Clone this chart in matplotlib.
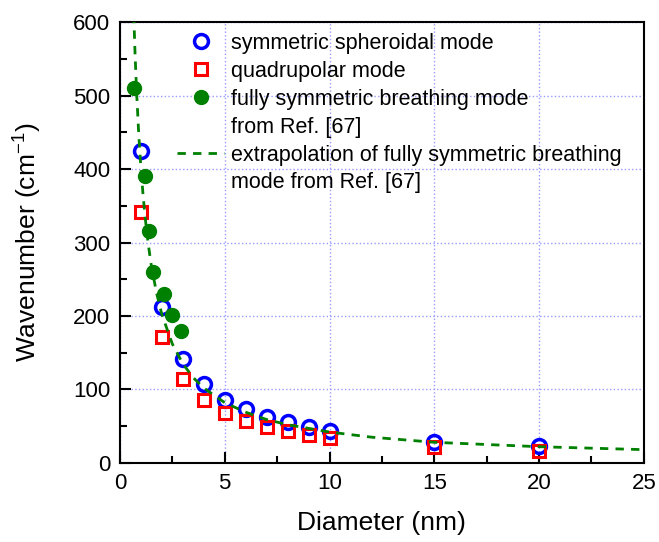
import matplotlib
matplotlib.use("Agg")
import matplotlib.pyplot as plt
from matplotlib.ticker import MultipleLocator

plt.rcParams['font.family'] = ['Liberation Sans', 'DejaVu Sans']
plt.rcParams['mathtext.fontset'] = 'custom'
plt.rcParams['mathtext.rm'] = 'Liberation Sans'

# symmetric spheroidal mode
sph_d = [1, 2, 3, 4, 5, 6, 7, 8, 9, 10, 15, 20]
sph_w = [425, 212, 142, 107, 85, 73, 62, 55, 49, 43, 29, 23]

# quadrupolar mode
quad_d = [1, 2, 3, 4, 5, 6, 7, 8, 9, 10, 15, 20]
quad_w = [342, 171, 114, 85, 68, 57, 49, 43, 38, 34, 22, 16]

# fully symmetric breathing mode, Ref. [67]
ref_d = [0.65, 1.2, 1.4, 1.6, 2.1, 2.5, 2.9]
ref_w = [510, 390, 316, 260, 230, 201, 180]

# extrapolation curve
ext_d = [0.66, 0.72, 0.8, 0.9, 1.0, 1.1, 1.2, 1.35, 1.5, 1.75, 2.0, 2.5, 3.0,
         3.5, 4.0, 5.0, 6.0, 7.0, 8.0, 10.0, 12.0, 15.0, 20.0, 25.0]
ext_w = [610, 558, 502, 446, 402, 366, 335, 298, 268, 231, 202, 162, 135,
         116, 102, 82, 69, 59, 52, 42, 35, 28, 22, 18]

fig = plt.figure(figsize=(6.59, 5.42), dpi=100)
ax = fig.add_axes([0.182, 0.146, 0.795, 0.813])

h_sph, = ax.plot(sph_d, sph_w, 'o', ms=10, mfc='none', mec='#0000ff',
                 mew=2.5, zorder=3)
h_quad, = ax.plot(quad_d, quad_w, 's', ms=9, mfc='none', mec='#ff0000',
                  mew=2.2, zorder=4)
h_ref, = ax.plot(ref_d, ref_w, 'o', ms=10, color='#008000', zorder=3)
h_ext, = ax.plot(ext_d, ext_w, '--', color='#008000', lw=2, dashes=(3, 2.6),
                 zorder=5)
# blank handles for the second line of the two-line entries
blank1, = ax.plot([], [], ' ')
blank2, = ax.plot([], [], ' ')

ax.set_xlim(0, 25)
ax.set_ylim(0, 600)
ax.xaxis.set_major_locator(MultipleLocator(5))
ax.xaxis.set_minor_locator(MultipleLocator(2.5))
ax.yaxis.set_major_locator(MultipleLocator(100))
ax.yaxis.set_minor_locator(MultipleLocator(50))
ax.tick_params(which='both', direction='in', top=False, right=False,
               labelsize=16, width=1.5)
ax.tick_params(which='major', length=8, pad=7)
ax.tick_params(which='minor', length=5)
for s in ax.spines.values():
    s.set_linewidth(1.5)

ax.grid(True, which='major', color='#9a9aff', linestyle=':', linewidth=1)
ax.set_axisbelow(True)

ax.set_xlabel('Diameter (nm)', fontsize=19)
ax.set_ylabel('Wavenumber (cm$^{-1}$)', fontsize=19)
ax.xaxis.set_label_coords(0.5, -0.11)
ax.yaxis.set_label_coords(-0.147, 0.5)

handles = [h_sph, h_quad, h_ref, blank1, h_ext, blank2]
labels = ['symmetric spheroidal mode',
          'quadrupolar mode',
          'fully symmetric breathing mode',
          'from Ref. [67]',
          'extrapolation of fully symmetric breathing',
          'mode from Ref. [67]']
leg = ax.legend(handles, labels, loc='upper left',
                bbox_to_anchor=(177 / 659, 1 - 33 / 542),
                bbox_transform=fig.transFigure, frameon=False,
                fontsize=15.5, handlelength=2.2, handletextpad=0.3,
                labelspacing=0.32, borderpad=0, borderaxespad=0)

fig.savefig('out.png', dpi=100)
